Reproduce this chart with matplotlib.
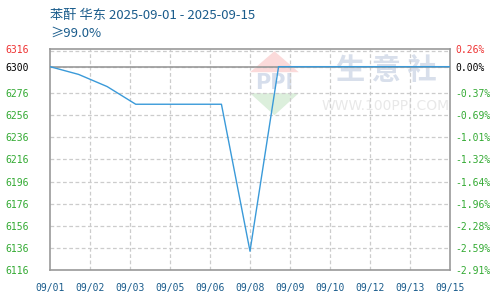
import matplotlib
matplotlib.use("Agg")
import matplotlib.pyplot as plt
from matplotlib.patches import Polygon

# ---- data ----
dates = ["09/01", "09/02", "09/03", "09/04", "09/05", "09/06", "09/07", "09/08",
         "09/09", "09/10", "09/11", "09/12", "09/13", "09/14", "09/15"]
prices = [6300, 6293, 6282, 6266, 6266, 6266, 6266, 6133,
          6300, 6300, 6300, 6300, 6300, 6300, 6300]
xtick_labels = ["09/01", "09/02", "09/03", "09/05", "09/06", "09/08",
                "09/09", "09/10", "09/12", "09/13", "09/15"]
left_ticks = [6316, 6300, 6276, 6256, 6236, 6216, 6196, 6176, 6156, 6136, 6116]
right_labels = ["0.26%", "0.00%", "-0.37%", "-0.69%", "-1.01%", "-1.32%",
                "-1.64%", "-1.96%", "-2.28%", "-2.59%", "-2.91%"]
base_price = 6300
title = "苯酐 华东 2025-09-01 - 2025-09-15"
subtitle = "≥99.0%"

plt.rcParams['font.family'] = ['Noto Sans CJK SC', 'DejaVu Sans']

fig = plt.figure(figsize=(5, 3), dpi=100)
ax = fig.add_axes([0.1, 0.1, 0.8, 0.7367])

n = len(dates)
xs = list(range(n))
ymin, ymax = left_ticks[-1], left_ticks[0]
ax.set_xlim(0, n - 1)
ax.set_ylim(ymin, ymax)

# grid
tick_pos = [i * (n - 1) / (len(xtick_labels) - 1) for i in range(len(xtick_labels))]
for tp in tick_pos[1:-1]:
    ax.axvline(tp, color="#cccccc", lw=0.9, ls=(0, (3, 2)), zorder=1)
for yt in left_ticks[1:-1]:
    ax.axhline(yt, color="#cccccc", lw=0.9, ls=(0, (3, 2)), zorder=1)
ax.axhline(ymax - 1.5, color="#cccccc", lw=0.9, ls=(0, (3, 2)), zorder=1)
ax.axhline(base_price, color="#999999", lw=1.2, zorder=2)

# watermark
tr = ax.transAxes
red = Polygon([[0.561, 0.99], [0.50, 0.895], [0.622, 0.895]], closed=True,
              transform=tr, facecolor="#fbdada", edgecolor="none", zorder=0)
green = Polygon([[0.50, 0.80], [0.622, 0.80], [0.561, 0.70]], closed=True,
                transform=tr, facecolor="#dcefdc", edgecolor="none", zorder=0)
ax.add_patch(red)
ax.add_patch(green)
ax.text(0.561, 0.847, "PPI", transform=tr, ha="center", va="center",
        fontsize=15, color="#d6deec", family="DejaVu Sans", fontweight="bold", zorder=0)
ax.text(0.84, 0.905, "生 意 社", transform=tr, ha="center", va="center",
        fontsize=21, color="#d8dfeb", fontweight="bold", zorder=0)
ax.text(0.84, 0.742, "WWW.100PPI.COM", transform=tr, ha="center", va="center",
        fontsize=10, color="#e8e8e8", family="DejaVu Sans", zorder=0)

# line
ax.plot(xs, prices, color="#3a9ad9", lw=1.0, zorder=3)

# axes styling
for s in ax.spines.values():
    s.set_color("#999999")
    s.set_linewidth(1.2)
ax.set_xticks(tick_pos)
ax.set_xticklabels(xtick_labels, color="#1a5c8c", fontsize=7, family="DejaVu Sans Mono")
ax.set_yticks(left_ticks)
ax.set_yticklabels([str(v) for v in left_ticks], fontsize=7, family="DejaVu Sans Mono")
ax.tick_params(axis="x", length=0, pad=9)
ax.tick_params(axis="y", length=0, pad=32)
for lbl in ax.get_yticklabels():
    lbl.set_horizontalalignment("left")

def col(i):
    if i == 0:
        return "#ee3333"
    if i == 1:
        return "#000000"
    return "#33aa33"

for i, lbl in enumerate(ax.get_yticklabels()):
    lbl.set_color(col(i))

ax2 = ax.twinx()
ax2.set_ylim(ymin, ymax)
ax2.set_yticks(left_ticks)
ax2.set_yticklabels(right_labels, fontsize=7, family="DejaVu Sans Mono")
ax2.tick_params(axis="y", length=0, pad=4)
for i, lbl in enumerate(ax2.get_yticklabels()):
    lbl.set_color(col(i))
for s in ax2.spines.values():
    s.set_visible(False)

fig.text(0.1, 0.95, title, color="#1a5c8c", fontsize=9.5, va="center", ha="left")
fig.text(0.1, 0.888, subtitle, color="#1a5c8c", fontsize=9.5, va="center", ha="left")

fig.savefig("out.png", dpi=100)
